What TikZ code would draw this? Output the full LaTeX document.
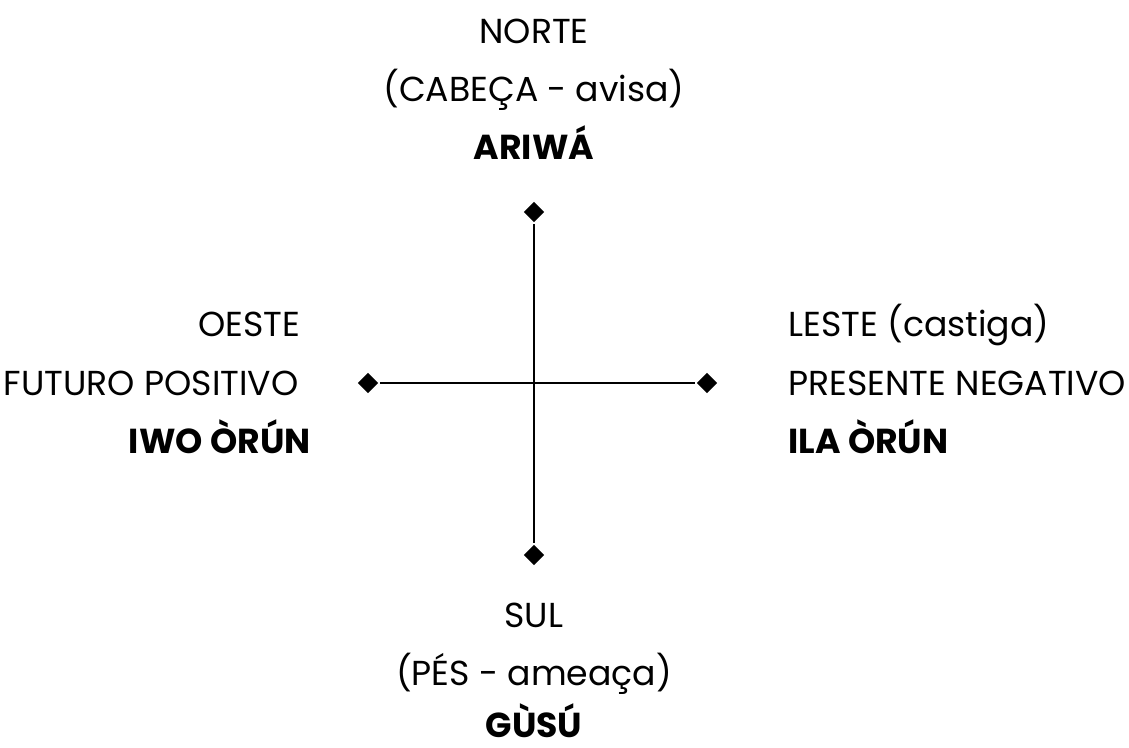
\documentclass[tikz,border=0pt]{standalone}
\usepackage{fontspec}
\setmainfont{Poppins}
\usetikzlibrary{shapes.geometric}

\tikzset{every picture/.style={line width=2.2pt}}
\tikzset{
  tip/.style={diamond,fill=black,draw=none,inner sep=0pt,minimum size=16pt},
  lbl/.style={inner sep=0pt,font=\fontsize{26}{30}\selectfont},
  lblb/.style={lbl,font=\fontsize{26}{30}\selectfont\bfseries}
}

\begin{document}
\begin{tikzpicture}[x=0.75pt,y=0.75pt,yscale=-1,xscale=1]
\useasboundingbox (0,0) rectangle (1129,747);

% ends of the cross
\node [tip] (n) at (534,212) {};
\node [tip] (s) at (534,555) {};
\node [tip] (w) at (368,383) {};
\node [tip] (e) at (707,383) {};

%Straight Lines
\draw (n) -- (s) ;
\draw (w) -- (e) ;

% Text Node north
\node [lbl,anchor=base] (norte1) at (534,43) {NORTE};
\node [lbl,anchor=base] (norte2) at (534,101) {(CABEÇA - avisa)};
\node [lblb,anchor=base] (norte3) at (534,159) {ARIWÁ};
% Text Node west
\node [lbl,anchor=base east] (oeste1) at (302,336) {OESTE};
\node [lbl,anchor=base east] (oeste2) at (300,395) {FUTURO POSITIVO};
\node [lblb,anchor=base east] (oeste3) at (312,453) {IWO ÒRÚN};
% Text Node east
\node [lbl,anchor=base west] (leste1) at (787,336) {LESTE (castiga)};
\node [lbl,anchor=base west] (leste2) at (787,395) {PRESENTE NEGATIVO};
\node [lblb,anchor=base west] (leste3) at (787,453) {ILA ÒRÚN};
% Text Node south
\node [lbl,anchor=base] (sul1) at (534,627) {SUL};
\node [lbl,anchor=base] (sul2) at (534,685) {(PÉS - ameaça)};
\node [lblb,anchor=base] (sul3) at (534,737) {GÙSÚ};

\end{tikzpicture}
\end{document}
